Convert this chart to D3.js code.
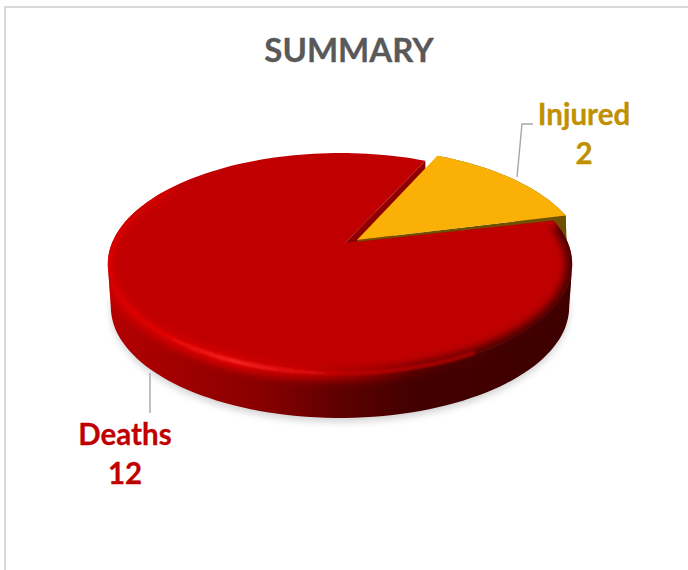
<!DOCTYPE html>
<html>
<head>
<meta charset="utf-8">
<script src="https://cdn.jsdelivr.net/npm/d3@7"></script>
<style>
  html, body { margin: 0; padding: 0; background: #fff; }
  svg { display: block; }
  text { font-family: Lato, "Open Sans", sans-serif; font-weight: 700; text-anchor: middle; stroke-width: 0.3px; }
</style>
</head>
<body>
<div id="chart"></div>
<script>
// dades llegides del grafic
const categories = ["Deaths", "Injured"];
const values = [12, 2];
const titleText = "SUMMARY";

const width = 688, height = 570;
const rad = d => d * Math.PI / 180;

const svg = d3.select("#chart").append("svg")
    .attr("width", width)
    .attr("height", height);

const defs = svg.append("defs");

// gradient de la paret lateral i del bisell
function gradient(id, stops) {
    const g = defs.append("linearGradient")
        .attr("id", id)
        .attr("gradientUnits", "userSpaceOnUse")
        .attr("x1", 108).attr("x2", 572).attr("y1", 0).attr("y2", 0);
    stops.forEach(s => g.append("stop").attr("offset", s[0]).attr("stop-color", s[1]));
}
gradient("wall", [[0, "#b40000"], [0.12, "#a40000"], [0.33, "#880000"], [0.5, "#5e0000"], [0.65, "#430000"], [1, "#3e0000"]]);
gradient("bevel", [[0, "#d00000"], [0.12, "#d40000"], [0.27, "#e40606"], [0.42, "#c40000"], [0.55, "#960000"], [0.68, "#560000"], [0.85, "#420000"], [1, "#420000"]]);
gradient("shine", [[0, "#dc0000"], [0.12, "#e60000"], [0.27, "#ff3030"], [0.42, "#e40c0c"], [0.52, "#c00000"], [0.6, "#c00000"], [1, "#c00000"]]);

function blur(id, dev) {
    defs.append("filter").attr("id", id)
        .attr("x", "-10%").attr("y", "-10%").attr("width", "120%").attr("height", "120%")
        .append("feGaussianBlur").attr("stdDeviation", dev);
}
blur("blurBevel", 4);
blur("blurShine", 1.8);
blur("blurShadow", 3.5);

// projeccio en perspectiva del disc: angle d3 (0 = dalt, sentit horari) -> pantalla
const persp = 0.189;
const sx = d3.scaleLinear().domain([-1, 1]).range([-228, 228]);
const sy = d3.scaleLinear().domain([-1, 1]).range([-107, 107]);
const center = [340, 243];
const depth = 43;

function rim(a, r = 1, drop = 0, off = [0, 0]) {
    const u = Math.sin(a) * r, v = -Math.cos(a) * r;
    const w = 1 - persp * v;
    const shrink = 1 - 0.013 * drop / depth;
    return [center[0] + off[0] + sx(u) / w * shrink, center[1] + off[1] + sy(v) / w + drop];
}
function arcPoints(a0, a1, r, drop, off) {
    const n = Math.max(2, Math.ceil(Math.abs(a1 - a0) / rad(2)));
    return d3.range(n + 1).map(i => rim(a0 + (a1 - a0) * i / n, r, drop, off));
}

const line = d3.line();
const closed = d3.line().curve(d3.curveLinearClosed);

// angles de les porcions
const pie = d3.pie().sort(null).startAngle(rad(77.4)).endAngle(rad(437.4));
const arcs = pie(values);
const deaths = arcs[0], injured = arcs[1];

const apex = [345, 243];                // vertex de la porcio gran
const off = [12, -5];                   // desplacament de la porcio separada
const apexInj = [357, 240];

// ombra sota el disc
svg.append("path")
    .attr("d", closed(arcPoints(rad(85), rad(280), 1, depth + 4).concat(arcPoints(rad(280), rad(445), 0.8, depth))))
    .attr("fill", "#a8a8a8")
    .attr("opacity", 0.5)
    .attr("filter", "url(#blurShadow)");

// marc del grafic (nomes esquerra i dalt)
svg.append("path")
    .attr("d", "M5,570V7H688")
    .attr("fill", "none")
    .attr("stroke", "#d9d9d9")
    .attr("stroke-width", 2);

// paret interior de la porcio gran (tall superior)
const topCorner = rim(injured.startAngle);
svg.append("path")
    .attr("d", closed([apex, topCorner, [topCorner[0], topCorner[1] + depth], [apex[0], apex[1] + depth]]))
    .attr("fill", "#8e0000");

// parets de la porcio Injured
const injRim = arcPoints(injured.startAngle, injured.endAngle, 1, 0, off);
const injRimLow = arcPoints(injured.endAngle, injured.startAngle, 1, depth, [off[0] + 4, off[1]]);
svg.append("path")
    .attr("d", closed(injRim.concat(injRimLow)))
    .attr("fill", "#6f4f00");
svg.append("path")
    .attr("d", closed([apexInj, injRim[injRim.length - 1], injRimLow[0], [apexInj[0], apexInj[1] + depth]]))
    .attr("fill", "#6f4f00");

// cara superior de la porcio Injured
svg.append("path")
    .attr("d", closed([apexInj].concat(injRim)))
    .attr("fill", "#fab005");

// paret exterior de la porcio Deaths (entre els extrems laterals de l'el·lipse)
const wallPts = arcPoints(rad(101), rad(259), 1, 0).concat(arcPoints(rad(259), rad(101), 1, depth));
svg.append("path")
    .attr("d", closed(wallPts))
    .attr("fill", "url(#wall)");

// cara superior de la porcio Deaths
const topFace = [apex].concat(arcPoints(deaths.startAngle, deaths.endAngle, 1, 0));
svg.append("path")
    .attr("d", closed(topFace))
    .attr("fill", "#c00000");

// bisell de la vora, retallat a la silueta de la part vermella
defs.append("clipPath").attr("id", "discClip")
    .append("path")
    .attr("d", closed(topFace) + closed(wallPts));
const bevel = svg.append("g").attr("clip-path", "url(#discClip)");
bevel.append("path")
    .attr("d", line(arcPoints(rad(80), rad(305), 1, 0)))
    .attr("fill", "none")
    .attr("stroke", "url(#bevel)")
    .attr("stroke-width", 12)
    .attr("filter", "url(#blurBevel)");
bevel.append("path")
    .attr("d", line(arcPoints(rad(150), rad(285), 0.99, 0)))
    .attr("fill", "none")
    .attr("stroke", "url(#shine)")
    .attr("stroke-width", 3)
    .attr("filter", "url(#blurShine)");

// linies guia
const leaders = ["M517,177L522,124H533", "M150,373V413"];
svg.selectAll(".guia")
    .data(leaders)
    .enter()
    .append("path")
    .attr("class", "guia")
    .attr("d", d => d)
    .attr("fill", "none")
    .attr("stroke", "#a6a6a6")
    .attr("stroke-width", 1.4);

// titol
svg.append("text")
    .attr("x", 349).attr("y", 62)
    .style("font-size", "33px")
    .style("fill", "#595959")
    .style("stroke", "#595959")
    .text(titleText);

// etiquetes
const labelColors = ["#c00000", "#bf9000"];
const labelPos = [[125, 445], [584, 125]];
categories.forEach((c, i) => {
    const t = svg.append("text")
        .attr("x", labelPos[i][0]).attr("y", labelPos[i][1])
        .style("font-size", "29.5px")
        .style("fill", labelColors[i])
        .style("stroke", labelColors[i]);
    t.append("tspan").attr("x", labelPos[i][0]).text(c);
    t.append("tspan").attr("x", labelPos[i][0]).attr("dy", 39).text(values[i]);
});
</script>
</body>
</html>
